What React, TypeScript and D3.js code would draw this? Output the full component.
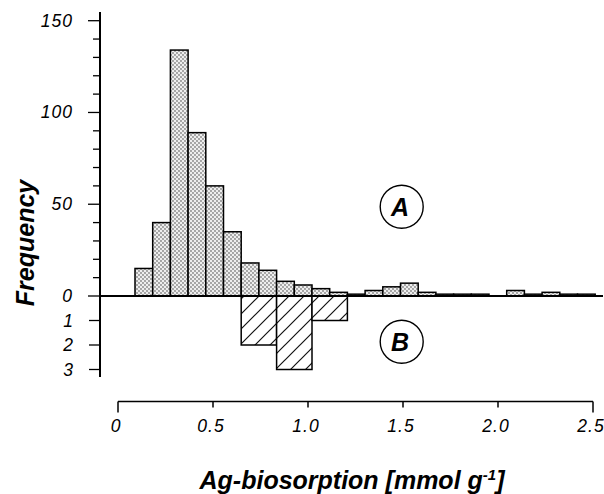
import * as d3 from "d3";

// upper histogram (A): left edge of each 0.1-wide bin and its count
const binsA = [0.1, 0.2, 0.3, 0.4, 0.5, 0.6, 0.7, 0.8, 0.9, 1.0, 1.1, 1.2, 1.3, 1.4, 1.5, 1.6, 1.7, 1.8, 1.9, 2.0, 2.1, 2.2, 2.3, 2.4, 2.5, 2.6];
const countsA = [15, 40, 134, 89, 60, 35, 18, 14, 8, 6, 4, 2, 1, 3, 5, 7, 2, 1, 1, 1, 0, 3, 1, 2, 1, 1];
const widthA = 0.1;

// lower histogram (B): 0.2-wide bins
const binsB = [0.7, 0.9, 1.1];
const countsB = [2, 3, 1];
const widthB = 0.2;

const ticksA = d3.range(0, 151, 10);
const labelsA = [0, 50, 100, 150];
const ticksB = [1, 2, 3];
const ticksX = [0, 0.5, 1.0, 1.5, 2.0, 2.5];
const tickLabelsX = ["0", "0.5", "1.0", "1.5", "2.0", "2.5"];

export default function App() {
  const W = 604;
  const H = 494;
  const axisX = 100;
  const baseY = 296;

  const xBar = d3.scaleLinear().domain([0, 2.5]).range([117.3, 559.8]);
  const xAxis = d3.scaleLinear().domain([0, 2.5]).range([118, 593]);
  const yA = d3.scaleLinear().domain([0, 150]).range([baseY, 20.7]);
  const yB = d3.scaleLinear().domain([0, 3]).range([baseY, 369.5]);
  const axisY = 401.5;

  const font = "'Liberation Sans', Arial, Helvetica, sans-serif";

  return (
    <svg width={W} height={H} style={{ position: "absolute", left: 0, top: 0, background: "#fff" }}>
      <defs>
        <pattern id="dots" width="4" height="4" patternUnits="userSpaceOnUse">
          <rect width="4" height="4" fill="#eeeeee" />
          <circle cx="1" cy="1" r="0.65" fill="#222" />
          <circle cx="3" cy="3" r="0.65" fill="#222" />
        </pattern>
        <pattern id="hatch" width="15" height="15" patternUnits="userSpaceOnUse">
          <rect width="15" height="15" fill="#fff" />
          <path d="M0,15 L15,0 M-3,3 L3,-3 M12,18 L18,12" stroke="#111" strokeWidth="1.2" />
        </pattern>
      </defs>

      {/* A bars */}
      <g>
        {binsA.map((b, i) =>
          countsA[i] > 0 ? (
            <rect
              key={i}
              x={xBar(b)}
              y={yA(countsA[i])}
              width={xBar(b + widthA) - xBar(b)}
              height={baseY - yA(countsA[i])}
              fill="url(#dots)"
              stroke="#000"
              strokeWidth={1.5}
            />
          ) : null
        )}
      </g>

      {/* B bars */}
      <g>
        {binsB.map((b, i) => (
          <rect
            key={i}
            x={xBar(b)}
            y={baseY}
            width={xBar(b + widthB) - xBar(b)}
            height={yB(countsB[i]) - baseY}
            fill="url(#hatch)"
            stroke="#000"
            strokeWidth={1.5}
          />
        ))}
      </g>

      {/* baseline */}
      <line x1={axisX} x2={603} y1={baseY} y2={baseY} stroke="#000" strokeWidth={2} />

      {/* y axis */}
      <line x1={axisX} x2={axisX} y1={12} y2={377} stroke="#000" strokeWidth={2} />
      {ticksA.map((t) => (
        <line
          key={"a" + t}
          x1={axisX - (t % 50 === 0 ? 12 : 7)}
          x2={axisX}
          y1={yA(t)}
          y2={yA(t)}
          stroke="#000"
          strokeWidth={1.3}
        />
      ))}
      {ticksB.map((t) => (
        <line key={"b" + t} x1={axisX - 11} x2={axisX} y1={yB(t)} y2={yB(t)} stroke="#000" strokeWidth={1.3} />
      ))}
      <g fontFamily={font} fontStyle="italic" fontSize={17.5} textAnchor="end" fill="#000">
        {labelsA.map((t) => (
          <text key={"la" + t} x={73} y={yA(t) + 6} letterSpacing={1}>
            {t}
          </text>
        ))}
        {ticksB.map((t) => (
          <text key={"lb" + t} x={73} y={yB(t) + 6}>
            {t}
          </text>
        ))}
      </g>

      {/* x axis */}
      <line x1={xAxis(0)} x2={xAxis(2.5)} y1={axisY} y2={axisY} stroke="#000" strokeWidth={1.5} />
      {ticksX.map((t, i) => (
        <line
          key={"x" + t}
          x1={xAxis(t)}
          x2={xAxis(t)}
          y1={axisY}
          y2={axisY + (i === 0 || i === ticksX.length - 1 ? 11 : 6)}
          stroke="#000"
          strokeWidth={1.5}
        />
      ))}
      <g fontFamily={font} fontStyle="italic" fontSize={17.5} textAnchor="middle" fill="#000">
        {ticksX.map((t, i) => (
          <text key={"lx" + t} x={xAxis(t) - 2} y={432} letterSpacing={1}>
            {tickLabelsX[i]}
          </text>
        ))}
      </g>

      {/* axis titles */}
      <text
        x={352}
        y={489}
        textAnchor="middle"
        fontFamily={font}
        fontStyle="italic"
        fontWeight="bold"
        fontSize={25}
      >
        Ag-biosorption [mmol g<tspan dy={-9} fontSize={15}>-1</tspan>
        <tspan dy={9}>]</tspan>
      </text>
      <text
        transform="translate(34,243) rotate(-90)"
        textAnchor="middle"
        fontFamily={font}
        fontStyle="italic"
        fontWeight="bold"
        fontSize={25}
      >
        Frequency
      </text>

      {/* group markers */}
      {[
        { label: "A", cy: 206.7 },
        { label: "B", cy: 341.7 },
      ].map((m) => (
        <g key={m.label}>
          <circle cx={401.7} cy={m.cy} r={21.5} fill="none" stroke="#000" strokeWidth={1.4} />
          <text
            x={400}
            y={m.cy + 9}
            textAnchor="middle"
            fontFamily={font}
            fontStyle="italic"
            fontWeight="bold"
            fontSize={25}
          >
            {m.label}
          </text>
        </g>
      ))}
    </svg>
  );
}
